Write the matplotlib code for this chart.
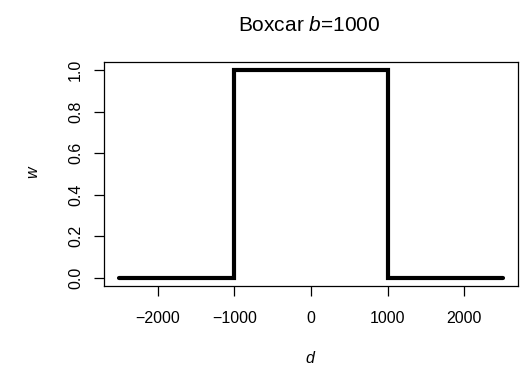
import matplotlib
matplotlib.use("Agg")
import matplotlib.pyplot as plt

# boxcar kernel with b = 1000
d = [-2500, -1000, -1000, 1000, 1000, 2500]
w = [0, 0, 1, 1, 0, 0]
x_ticks = [-2000, -1000, 0, 1000, 2000]
y_ticks = [0.0, 0.2, 0.4, 0.6, 0.8, 1.0]

plt.rcParams['font.family'] = ['Liberation Sans', 'DejaVu Sans']
plt.rcParams['mathtext.fontset'] = 'custom'
plt.rcParams['mathtext.it'] = 'Liberation Sans:italic'
plt.rcParams['mathtext.rm'] = 'Liberation Sans'

W, H = 524, 365
fig = plt.figure(figsize=(W / 100, H / 100), dpi=100)
ax = fig.add_axes([104 / W, 79 / H, 414 / W, 224 / H])
ax.plot(d, w, color='black', linewidth=3.0, solid_joinstyle='miter', solid_capstyle='round')

# R style limits: 4% padding
ax.set_xlim(-2700, 2700)
ax.set_ylim(-0.04, 1.04)
ax.set_xticks(x_ticks)
ax.set_xticklabels([str(v).replace('-', '\u2212') for v in x_ticks])
ax.set_yticks(y_ticks)
ax.set_yticklabels(['%.1f' % v for v in y_ticks], rotation=90, va='center')
ax.tick_params(direction='out', length=7, width=0.9, labelsize=11.5, colors='black')
ax.tick_params(axis='x', pad=11)
ax.tick_params(axis='y', pad=8)
for s in ax.spines.values():
    s.set_linewidth(0.9)

fig.text(311 / W, 1 - 363 / H, '$d$', ha='center', va='baseline', fontsize=11.5)
fig.text(34 / W, 1 - 172 / H, '$w$', ha='center', va='center', rotation=90, fontsize=11.5)
fig.text(309 / W, 1 - 31 / H, 'Boxcar $b$=1000', ha='center', va='baseline', fontsize=15)

fig.savefig('out.png', dpi=100)
